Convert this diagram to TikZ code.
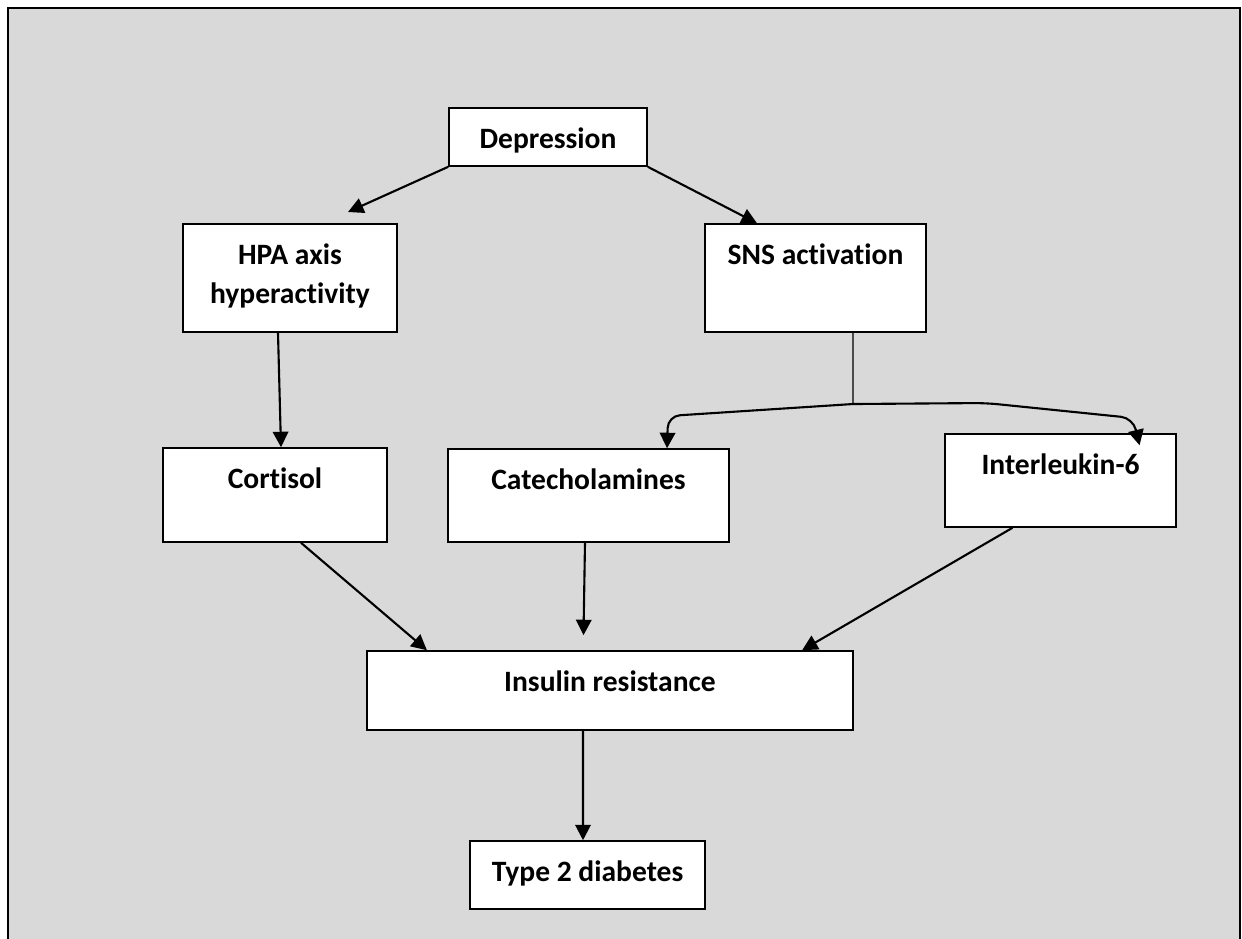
\documentclass[tikz,border=0pt]{standalone}
\usepackage{fontspec}
\setmainfont{Carlito}[Ligatures=NoCommon]
\usetikzlibrary{arrows.meta}
\definecolor{panelgray}{HTML}{D9D9D9}
\tikzset{
  box/.style={draw=black, fill=white, line width=0.45pt, inner sep=0pt, rectangle},
  lbl/.style={anchor=north, inner sep=0pt, yshift=-0.2cm, align=center,
    font=\fontsize{8.4}{11}\selectfont\bfseries},
  arr/.style={draw=black, line width=0.6pt, -{Triangle[length=4.4pt,width=4.4pt]}},
  plain/.style={draw=black, line width=0.4pt}
}
\newcommand\boxat[6]{%
  \node[box, minimum width={(#4-#2)*0.01cm}, minimum height={(#5-#3)*0.01cm},
        label={[lbl]north:#6}] (#1) at ({(#2+#4)/2},{(#3+#5)/2}) {};}
\begin{document}
\begin{tikzpicture}[x=0.01cm, y=-0.01cm]
\useasboundingbox (0,0) rectangle (1242,938);
% panel
\fill[panelgray] (8,8) rectangle (1240,945);
\draw[line width=0.65pt] (8,945) -- (8,8) -- (1240,8) -- (1240,945);

% boxes
\boxat{dep}{449}{108}{647}{166}{Depression}
\boxat{hpa}{183}{224}{397}{332}{HPA axis\\hyperactivity}
\boxat{sns}{705}{224}{926}{332}{SNS activation}
\boxat{cort}{163}{448}{387}{542}{Cortisol}
\boxat{cat}{448}{449}{729}{542}{Catecholamines}
\boxat{il}{945}{434}{1176}{527}{Interleukin-6}
\boxat{ins}{367}{651}{853}{730}{Insulin resistance}
\boxat{t2d}{470}{841}{705}{909}{Type 2 diabetes}

% free ends
\coordinate (hpatip) at (348,212);
\coordinate (split) at (853,404);

% connectors
\draw[arr] (dep.south west) -- (hpatip);
\draw[arr] (dep.south east) -- ([xshift=-0.585cm]sns.north);
\draw[arr] ([xshift=-0.12cm]hpa.south) -- ([xshift=0.06cm]cort.north);
\draw[plain] ([xshift=0.375cm]sns.south) -- (split);
\draw[arr, rounded corners=0.12cm] (split) -- (668,416) -- ([xshift=0.785cm]cat.north);
\draw[arr, rounded corners=0.12cm] (split) -- (986,403) -- (1133,418) -- ([xshift=0.79cm, yshift=-0.12cm]il.north);
\draw[arr] ([xshift=0.26cm]cort.south) -- ([xshift=-1.83cm]ins.north);
\draw[arr] ([xshift=-0.035cm]cat.south) -- ([xshift=-0.265cm, yshift=0.15cm]ins.north);
\draw[arr] ([xshift=-0.48cm]il.south) -- ([xshift=1.92cm]ins.north);
\draw[arr] ([xshift=-0.27cm]ins.south) -- ([xshift=-0.045cm]t2d.north);
\end{tikzpicture}
\end{document}
